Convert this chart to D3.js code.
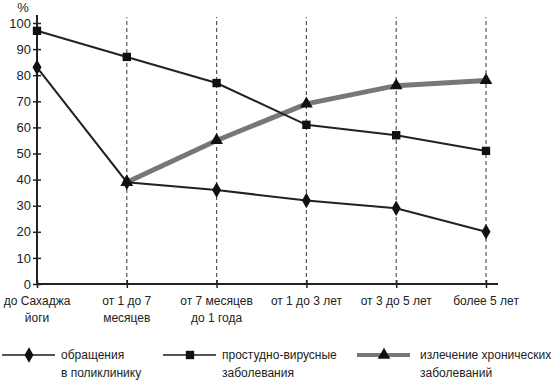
<!DOCTYPE html>
<html>
<head>
<meta charset="utf-8">
<script src="https://cdn.jsdelivr.net/npm/d3@7"></script>
<style>
  body { margin: 0; background: #fff; }
  text { font-family: "Liberation Sans", Arial, sans-serif; fill: #222; }
</style>
</head>
<body>
<script>
const categories = [
  ['до Сахаджа', 'йоги'],
  ['от 1 до 7', 'месяцев'],
  ['от 7 месяцев', 'до 1 года'],
  ['от 1 до 3 лет'],
  ['от 3 до 5 лет'],
  ['более 5 лет']
];
const visits = [83, 39, 36, 32, 29, 20];
const colds = [97, 87, 77, 61, 57, 51];
const chronic = [null, 39, 55, 69, 76, 78];
const yTicks = [0, 10, 20, 30, 40, 50, 60, 70, 80, 90, 100];
const legendLabels = [
  ['обращения', 'в поликлинику'],
  ['простудно-вирусные', 'заболевания'],
  ['излечение хронических', 'заболеваний']
];

const width = 560, height = 386;
const svg = d3.select('body').append('svg')
  .attr('width', width)
  .attr('height', height);

const x = d3.scalePoint()
  .domain(d3.range(categories.length))
  .range([37, 486]);
const y = d3.scaleLinear()
  .domain([0, 100])
  .range([284, 23]);

// dashed verticals
svg.append('g')
  .selectAll('line')
  .data(d3.range(1, categories.length))
  .join('line')
  .attr('x1', (d) => x(d)).attr('x2', (d) => x(d))
  .attr('y1', y(0)).attr('y2', y(100) - 6)
  .attr('stroke', '#555')
  .attr('stroke-width', 1.2)
  .attr('stroke-dasharray', '4,3');

// y axis
const yAxis = d3.axisLeft(y).tickValues(yTicks).tickSizeInner(4).tickSizeOuter(0).tickPadding(3);
const gy = svg.append('g')
  .attr('transform', 'translate(' + x(0) + ',0)')
  .call(yAxis);
gy.select('.domain').attr('stroke', '#222').attr('stroke-width', 2).attr('d', 'M0,' + y(0) + 'V' + (y(100) - 8));
gy.selectAll('.tick line').attr('x2', 4).attr('x1', -4).attr('stroke', '#222').attr('stroke-width', 1.5);
gy.selectAll('.tick text').attr('x', -6).style('font-size', '13px').style('font-family', '"Liberation Sans", Arial, sans-serif').attr('fill', '#222');

svg.append('text')
  .attr('x', x(0) - 14).attr('y', 12)
  .attr('text-anchor', 'middle')
  .style('font-size', '13px')
  .text('%');

// x axis
const xAxis = d3.axisBottom(x).tickSizeInner(4).tickSizeOuter(0).tickFormat('');
const gx = svg.append('g')
  .attr('transform', 'translate(0,' + y(0) + ')')
  .call(xAxis);
gx.select('.domain').attr('stroke', '#222').attr('stroke-width', 2).attr('d', 'M' + x(0) + ',0H498');
gx.selectAll('.tick line').attr('y1', -4).attr('y2', 4).attr('stroke', '#222').attr('stroke-width', 1.5);

const xl = svg.append('g').selectAll('text')
  .data(categories)
  .join('text')
  .attr('x', (d, i) => x(i))
  .attr('y', 305)
  .attr('text-anchor', 'middle')
  .style('font-size', '12px');
xl.selectAll('tspan')
  .data((d) => d)
  .join('tspan')
  .attr('x', function() { return d3.select(this.parentNode).attr('x'); })
  .attr('dy', (d, i) => i === 0 ? 0 : 17)
  .text((d) => d);

// lines
const line = d3.line()
  .defined((d) => d !== null)
  .x((d, i) => x(i))
  .y((d) => y(d));

svg.append('path').datum(chronic)
  .attr('d', line).attr('fill', 'none')
  .attr('stroke', '#777').attr('stroke-width', 5);
svg.append('path').datum(colds)
  .attr('d', line).attr('fill', 'none')
  .attr('stroke', '#222').attr('stroke-width', 2);
svg.append('path').datum(visits)
  .attr('d', line).attr('fill', 'none')
  .attr('stroke', '#222').attr('stroke-width', 2);

const diamond = d3.symbol(d3.symbolDiamond, 70);
const square = d3.symbol(d3.symbolSquare, 70);
const triangle = d3.symbol(d3.symbolTriangle, 70);

function markers(data, sym) {
  svg.append('g').selectAll('path')
    .data(data.map((v, i) => [i, v]).filter((d) => d[1] !== null))
    .join('path')
    .attr('transform', (d) => 'translate(' + x(d[0]) + ',' + y(d[1]) + ')')
    .attr('d', sym)
    .attr('fill', '#111');
}
markers(chronic, triangle);
markers(colds, square);
markers(visits, diamond);

// legend
const legend = [
  { x: 2, sym: diamond, color: '#555', w: 2 },
  { x: 163, sym: square, color: '#555', w: 2 },
  { x: 357, sym: triangle, color: '#777', w: 4 }
];
const lg = svg.append('g').selectAll('g')
  .data(legend)
  .join('g')
  .attr('transform', (d) => 'translate(' + d.x + ',355)');
lg.append('line')
  .attr('x1', 0).attr('x2', 53).attr('y1', 0).attr('y2', 0)
  .attr('stroke', (d) => d.color).attr('stroke-width', (d) => d.w);
lg.append('path')
  .attr('transform', 'translate(27,0)')
  .attr('d', (d) => d.sym())
  .attr('fill', '#111');
lg.append('text')
  .attr('x', (d, i) => i === 2 ? 63 : 59)
  .attr('y', 4)
  .style('font-size', '12px')
  .selectAll('tspan')
  .data((d, i) => legendLabels[i])
  .join('tspan')
  .attr('x', function() { return d3.select(this.parentNode).attr('x'); })
  .attr('dy', (d, i) => i === 0 ? 0 : 18)
  .text((d) => d);
</script>
</body>
</html>
